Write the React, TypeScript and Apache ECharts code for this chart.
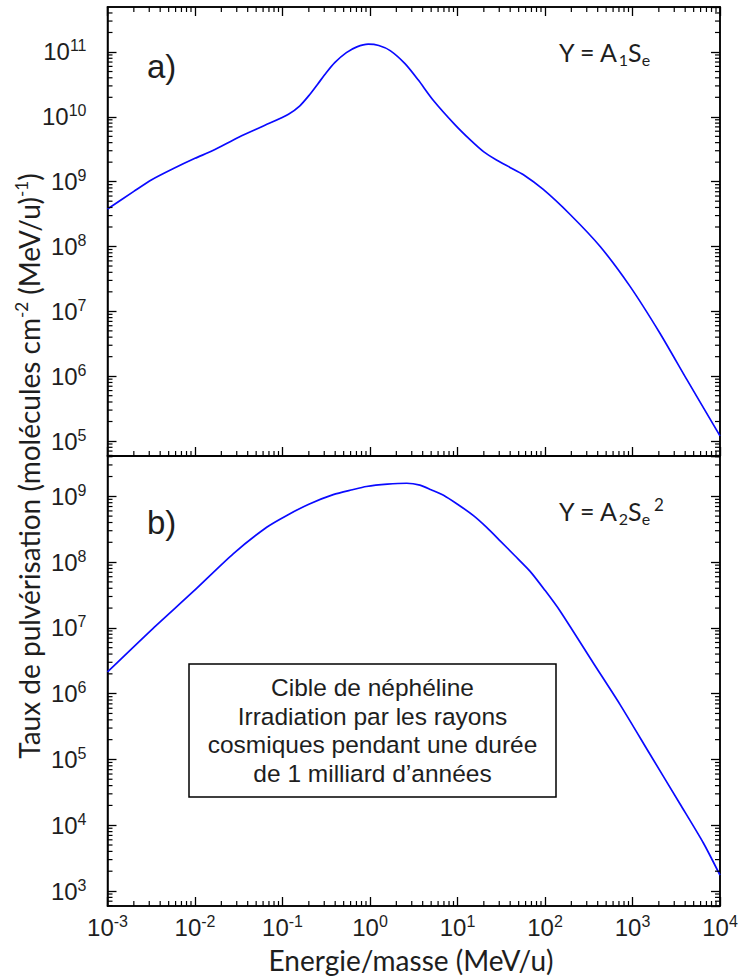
import React, { useEffect, useRef } from "react";
import * as echarts from "echarts";

// ---------- data ----------
// panel a) Y = A1 Se
const energyA = [0.001, 0.002, 0.0032, 0.0056, 0.01, 0.016, 0.032, 0.063, 0.117, 0.158, 0.204, 0.251, 0.316, 0.398, 0.537, 0.708, 0.955, 1.26, 1.7, 2.51, 3.55, 5.25, 9.33, 14.1, 20, 28.2, 39.8, 56.2, 95.5, 195, 427, 933, 2042, 4169, 10000];
const yieldA = [3.8e8, 7.08e8, 1.07e9, 1.58e9, 2.29e9, 3.02e9, 4.9e9, 7.41e9, 1.1e10, 1.48e10, 2.19e10, 3.16e10, 4.79e10, 6.92e10, 9.77e10, 1.2e11, 1.32e11, 1.26e11, 1.05e11, 6.61e10, 3.72e10, 1.82e10, 7.59e9, 4.37e9, 2.88e9, 2.14e9, 1.66e9, 1.29e9, 7.59e8, 3.09e8, 1.0e8, 2.45e7, 4.68e6, 8.91e5, 1.2e5];
// panel b) Y = A2 Se^2
const energyB = [0.001, 0.0033, 0.0095, 0.0275, 0.066, 0.112, 0.2, 0.38, 0.63, 0.91, 1.58, 2.63, 3.72, 5.0, 6.92, 10, 15.1, 21.4, 30.9, 45, 67.6, 100, 148, 355, 724, 1585, 3467, 6457, 10000];
const yieldB = [2.14e6, 9.77e6, 3.55e7, 1.35e8, 3.39e8, 5.13e8, 7.59e8, 1.06e9, 1.26e9, 1.41e9, 1.53e9, 1.58e9, 1.48e9, 1.26e9, 1.04e9, 7.59e8, 5.13e8, 3.4e8, 2.09e8, 1.26e8, 7.24e7, 3.72e7, 1.82e7, 2.95e6, 6.76e5, 1.2e5, 2.14e4, 5.37e3, 1.74e3];

// axis ranges (decade exponents)
const xExpRange = [-3, 4];
const yExpRangeA = [4.769, 11.694];
const yExpRangeB = [2.772, 9.613];
const minorMultipliers = [2, 3, 4, 5, 6, 7, 8, 9];

// texts
const xTitle = "Energie/masse (MeV/u)";
const boxLines = ["Cible de néphéline", "Irradiation par les rayons", "cosmiques pendant une durée", "de 1 milliard d’années"];

// ---------- helpers ----------
const LABEL_FONT = "'Liberation Sans', Arial, sans-serif";
const TITLE_FONT = "Lato, 'Open Sans', sans-serif";
const TEXT_COLOR = "#1e1e1e";

function minorValues(lo: number, hi: number) {
  const out: number[] = [];
  for (let e = Math.floor(lo); e <= Math.ceil(hi); e++) {
    for (const m of minorMultipliers) {
      const v = m * Math.pow(10, e);
      const lv = Math.log10(v);
      if (lv > lo && lv < hi) out.push(v);
    }
  }
  return out;
}

const powLabel = (v: number) => `{b|10}{s|${Math.round(Math.log10(v))}}`;
const labelRich = {
  b: { fontFamily: LABEL_FONT, fontSize: 24, lineHeight: 28, color: TEXT_COLOR },
  s: { fontFamily: LABEL_FONT, fontSize: 16, lineHeight: 14, verticalAlign: "top", color: TEXT_COLOR },
};

const axisLineStyle = { color: "#000", width: 1.5 };
const majorTick = { show: true, inside: true, length: 9, lineStyle: { color: "#000", width: 1.3 } };

function makeMinorTickSeries(xAxisIndex: number, yAxisIndex: number, yRange: number[], topTicks: boolean) {
  const xMin = Math.pow(10, xExpRange[0]);
  const yMin = Math.pow(10, yRange[0]);
  const mx = minorValues(xExpRange[0], xExpRange[1]);
  const my = minorValues(yRange[0], yRange[1]);
  return {
    type: "custom",
    xAxisIndex,
    yAxisIndex,
    silent: true,
    clip: false,
    z: 5,
    data: [[xMin, yMin]],
    renderItem: (params: any, api: any) => {
      const cs = params.coordSys;
      const L = 5;
      const st = { stroke: "#000", lineWidth: 1.2 };
      const children: any[] = [];
      for (const v of mx) {
        const px = api.coord([v, yMin])[0];
        const yb = cs.y + cs.height;
        children.push({ type: "line", shape: { x1: px, y1: yb, x2: px, y2: yb - L }, style: st });
        if (topTicks) children.push({ type: "line", shape: { x1: px, y1: cs.y, x2: px, y2: cs.y + L }, style: st });
      }
      for (const v of my) {
        const py = api.coord([xMin, v])[1];
        children.push({ type: "line", shape: { x1: cs.x, y1: py, x2: cs.x + L, y2: py }, style: st });
        const xr = cs.x + cs.width;
        children.push({ type: "line", shape: { x1: xr, y1: py, x2: xr - L, y2: py }, style: st });
      }
      return { type: "group", children };
    },
  };
}

function xAxisDef(gridIndex: number, position: string, showLabels: boolean) {
  return {
    type: "log",
    logBase: 10,
    gridIndex,
    position,
    min: Math.pow(10, xExpRange[0]),
    max: Math.pow(10, xExpRange[1]),
    splitNumber: 7,
    axisLine: { show: true, onZero: false, lineStyle: axisLineStyle },
    axisTick: majorTick,
    splitLine: { show: false },
    axisLabel: showLabels
      ? { show: true, margin: 7, formatter: powLabel, rich: labelRich, showMinLabel: true, showMaxLabel: true, hideOverlap: false }
      : { show: false },
  };
}

function yAxisDef(gridIndex: number, position: string, range: number[], showLabels: boolean) {
  return {
    type: "log",
    logBase: 10,
    gridIndex,
    position,
    min: Math.pow(10, range[0]),
    max: Math.pow(10, range[1]),
    splitNumber: 7,
    axisLine: { show: true, onZero: false, lineStyle: axisLineStyle },
    axisTick: majorTick,
    splitLine: { show: false },
    axisLabel: showLabels
      ? { show: true, margin: 21, formatter: powLabel, rich: labelRich, showMinLabel: false, showMaxLabel: false }
      : { show: false },
  };
}

const GRID_LEFT = 107.5;
const GRID_RIGHT_EDGE = 720;

export default function App() {
  const ref = useRef<HTMLDivElement>(null);
  useEffect(() => {
    const chart = echarts.init(ref.current!, null, { renderer: "svg" });
    const curveStyle = { color: "#0a0aff", width: 1.7 };
    const option: any = {
      animation: false,
      backgroundColor: "#fff",
      grid: [
        { left: GRID_LEFT, top: 7, width: GRID_RIGHT_EDGE - GRID_LEFT, height: 449, show: true, borderColor: "#000", borderWidth: 1.5, outerBoundsMode: "none" },
        { left: GRID_LEFT, top: 456, width: GRID_RIGHT_EDGE - GRID_LEFT, height: 450, show: true, borderColor: "#000", borderWidth: 1.5, outerBoundsMode: "none" },
      ],
      xAxis: [xAxisDef(0, "bottom", false), xAxisDef(0, "top", false), xAxisDef(1, "bottom", true)],
      yAxis: [
        yAxisDef(0, "left", yExpRangeA, true),
        yAxisDef(0, "right", yExpRangeA, false),
        yAxisDef(1, "left", yExpRangeB, true),
        yAxisDef(1, "right", yExpRangeB, false),
      ],
      series: [
        {
          name: "a",
          type: "line",
          xAxisIndex: 0,
          yAxisIndex: 0,
          data: energyA.map((e, i) => [e, yieldA[i]]),
          showSymbol: false,
          smooth: 0.25,
          lineStyle: curveStyle,
          z: 3,
        },
        {
          name: "b",
          type: "line",
          xAxisIndex: 2,
          yAxisIndex: 2,
          data: energyB.map((e, i) => [e, yieldB[i]]),
          showSymbol: false,
          smooth: 0.25,
          lineStyle: curveStyle,
          z: 3,
        },
        makeMinorTickSeries(0, 0, yExpRangeA, true),
        makeMinorTickSeries(2, 2, yExpRangeB, false),
      ],
      graphic: [
        // y-axis title
        {
          type: "text",
          x: 29,
          y: 466,
          rotation: Math.PI / 2,
          style: {
            text: "{t|Taux de pulvérisation (molécules cm}{p|-2}{t| (MeV/u)}{p|-1}{t|)}",
            align: "center",
            verticalAlign: "middle",
            rich: {
              t: { fontFamily: TITLE_FONT, fontSize: 28, lineHeight: 32, fill: TEXT_COLOR, color: TEXT_COLOR },
              p: { fontFamily: TITLE_FONT, fontSize: 17, lineHeight: 17, verticalAlign: "top", fill: TEXT_COLOR, color: TEXT_COLOR },
            },
          },
        },
        // x-axis title
        {
          type: "text",
          x: 411,
          y: 960,
          style: { text: xTitle, fontFamily: TITLE_FONT, fontSize: 28, fill: TEXT_COLOR, align: "center", verticalAlign: "middle" },
        },
        // panel letters
        { type: "text", x: 147, y: 66, style: { text: "a)", fontFamily: LABEL_FONT, fontSize: 33, fill: TEXT_COLOR, align: "left", verticalAlign: "middle" } },
        { type: "text", x: 147, y: 522, style: { text: "b)", fontFamily: LABEL_FONT, fontSize: 33, fill: TEXT_COLOR, align: "left", verticalAlign: "middle" } },
        // formulas
        {
          type: "text",
          x: 559,
          y: 52,
          style: {
            text: "{m|Y = A}{d|1}{m|S}{d|e}",
            align: "left",
            verticalAlign: "middle",
            rich: {
              m: { fontFamily: TITLE_FONT, fontSize: 25, lineHeight: 30, fill: TEXT_COLOR, color: TEXT_COLOR },
              d: { fontFamily: TITLE_FONT, fontSize: 16, lineHeight: 16, verticalAlign: "bottom", fill: TEXT_COLOR, color: TEXT_COLOR },
            },
          },
        },
        {
          type: "text",
          x: 559,
          y: 511,
          style: {
            text: "{m|Y = A}{d|2}{m|S}{d|e}{u|2}",
            align: "left",
            verticalAlign: "middle",
            rich: {
              m: { fontFamily: TITLE_FONT, fontSize: 25, lineHeight: 30, fill: TEXT_COLOR, color: TEXT_COLOR },
              d: { fontFamily: TITLE_FONT, fontSize: 16, lineHeight: 16, verticalAlign: "bottom", fill: TEXT_COLOR, color: TEXT_COLOR },
              u: { fontFamily: TITLE_FONT, fontSize: 17, lineHeight: 17, verticalAlign: "top", padding: [0, 0, 0, 4], fill: TEXT_COLOR, color: TEXT_COLOR },
            },
          },
        },
        // annotation box
        {
          type: "rect",
          shape: { x: 189, y: 664, width: 367, height: 133 },
          style: { fill: "transparent", stroke: "#000", lineWidth: 1.5 },
        },
        {
          type: "text",
          x: 372.5,
          y: 730.5,
          style: {
            text: boxLines.join("\n"),
            fontFamily: LABEL_FONT,
            fontSize: 24.5,
            lineHeight: 28.5,
            fill: TEXT_COLOR,
            align: "center",
            verticalAlign: "middle",
          },
        },
      ],
    };
    chart.setOption(option);
    return () => chart.dispose();
  }, []);
  return (
    <div
      ref={ref}
      style={{ position: "absolute", left: 0, top: 0, width: 740, height: 979, background: "#fff" }}
    />
  );
}
